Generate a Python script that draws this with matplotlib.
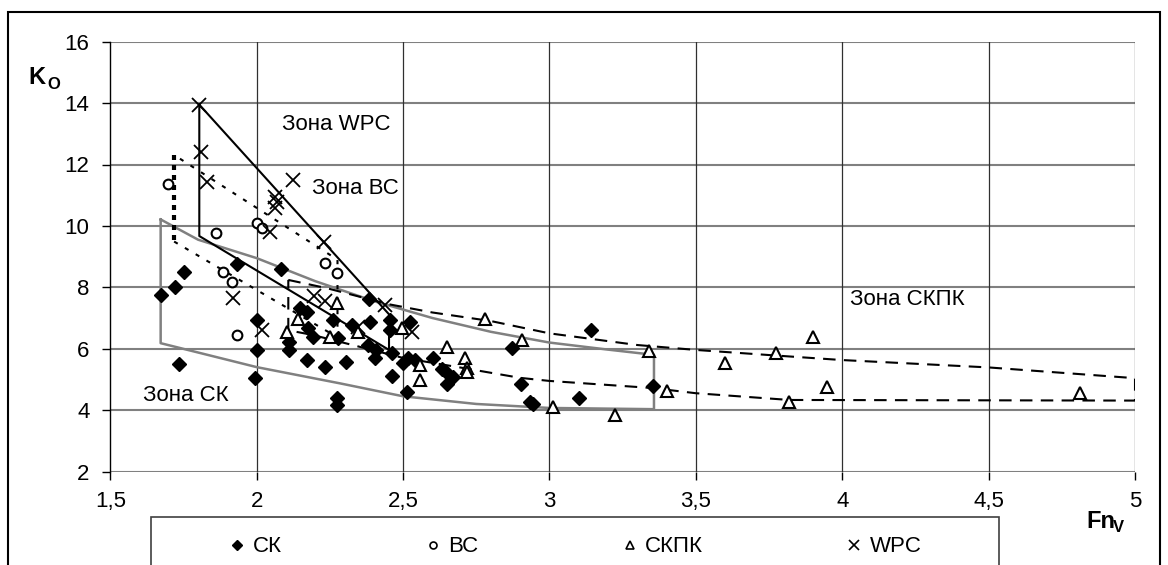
import matplotlib
matplotlib.use("Agg")
import matplotlib.pyplot as plt
from matplotlib.patches import Rectangle
from matplotlib.lines import Line2D

plt.rcParams["font.family"] = ["Liberation Sans", "DejaVu Sans"]

# --- measured points ---
ck_x = [1.672, 1.721, 1.753, 1.932, 2.084, 1.735, 2.0, 2.0, 1.994, 2.111,
        2.111, 2.148, 2.171, 2.175, 2.192, 2.171, 2.233, 2.261, 2.273, 2.273,
        2.279, 2.305, 2.324, 2.385, 2.387, 2.381, 2.409, 2.404, 2.455, 2.455,
        2.461, 2.461, 2.524, 2.501, 2.518, 2.541, 2.512, 2.603, 2.632, 2.649,
        2.671, 2.649, 2.871, 2.903, 2.933, 2.945, 3.102, 3.142, 3.354]
ck_y = [7.75, 8.00, 8.49, 8.76, 8.59, 5.50, 6.93, 5.96, 5.05, 6.23,
        5.96, 7.33, 7.21, 6.67, 6.38, 5.63, 5.41, 6.93, 4.39, 4.17,
        6.34, 5.58, 6.77, 7.61, 6.88, 6.12, 5.96, 5.69, 6.93, 6.61,
        5.85, 5.11, 6.88, 5.52, 5.69, 5.63, 4.60, 5.69, 5.33, 5.22,
        5.09, 4.85, 6.01, 4.85, 4.27, 4.20, 4.38, 6.61, 4.79]

bc_x = [1.698, 1.861, 2.0, 2.017, 2.233, 2.275, 1.886, 1.915, 1.932]
bc_y = [11.36, 9.76, 10.08, 9.92, 8.80, 8.47, 8.51, 8.18, 6.45]

skpk_x = [2.142, 2.102, 2.273, 2.250, 2.347, 2.495, 2.649, 2.557, 2.557, 2.780,
          2.712, 2.717, 2.717, 2.905, 3.013, 3.224, 3.341, 3.402, 3.600, 3.773,
          3.901, 3.947, 3.819, 4.812]
skpk_y = [6.96, 6.55, 7.50, 6.39, 6.55, 6.66, 6.07, 5.46, 4.98, 6.98,
          5.69, 5.36, 5.25, 6.27, 4.11, 3.85, 5.93, 4.63, 5.54, 5.87,
          6.39, 4.76, 4.27, 4.57]

wpc_x = [1.804, 1.809, 1.829, 2.125, 2.063, 2.068, 2.063, 2.045, 2.231, 1.920,
         2.017, 2.195, 2.235, 2.347, 2.438, 2.529]
wpc_y = [13.95, 12.42, 11.44, 11.49, 10.95, 10.79, 10.57, 9.81, 9.49, 7.64,
         6.61, 7.72, 7.55, 6.72, 7.42, 6.55]

# --- zone boundaries ---
zone_sk_x = [1.672, 1.8, 2.0, 2.2, 2.4, 2.6, 2.8, 3.0, 3.2, 3.357,
             3.357, 3.0, 2.75, 2.5, 2.285, 2.0, 1.672, 1.672]
zone_sk_y = [10.21, 9.55, 8.95, 8.2, 7.55, 7.0, 6.55, 6.2, 5.97, 5.8,
             4.03, 4.07, 4.2, 4.45, 4.87, 5.4, 6.18, 10.21]

zone_wpc_x = [1.804, 1.804, 2.452, 2.452, 1.804]
zone_wpc_y = [13.95, 9.67, 5.96, 7.12, 13.95]

zone_bc_left_x = [1.718, 1.718]
zone_bc_left_y = [12.31, 9.49]
zone_bc_x = [1.718, 2.276, 2.276, 1.718]
zone_bc_y = [9.49, 6.37, 8.9, 12.31]

zone_skpk_x = [2.108, 2.24, 2.45, 2.6, 2.8, 3.0, 3.3, 3.5, 3.8, 4.0, 4.5, 5.0,
               5.0, 3.82, 3.5, 3.35, 3.0, 2.9, 2.7, 2.5, 2.336, 2.19, 2.108, 2.108]
zone_skpk_y = [8.24, 7.97, 7.45, 7.18, 6.9, 6.5, 6.12, 5.96, 5.76, 5.63, 5.39, 5.04,
               4.31, 4.33, 4.55, 4.72, 4.95, 5.05, 5.38, 5.7, 6.1, 6.45, 6.6, 8.24]

x_ticks = [1.5, 2, 2.5, 3, 3.5, 4, 4.5, 5]
x_labels = ["1,5", "2", "2,5", "3", "3,5", "4", "4,5", "5"]
y_ticks = [2, 4, 6, 8, 10, 12, 14, 16]

W, H = 1168, 565
fig = plt.figure(figsize=(W / 100, H / 100), dpi=100)
ax = fig.add_axes([110.3 / W, 1 - 471.5 / H, (1135 - 110.3) / W, (471.5 - 41.7) / H])

ax.set_xlim(1.5, 5)
ax.set_ylim(2, 16)
for yv in y_ticks:
    ax.axhline(yv, color="#808080", lw=1.5, zorder=0)
for xv in x_ticks[1:]:
    ax.axvline(xv, color="#303030", lw=0.9, zorder=0)

for s in ["top", "right", "bottom"]:
    ax.spines[s].set_visible(False)
ax.spines["left"].set_color("black")
ax.spines["left"].set_linewidth(1.0)

ax.set_xticks(x_ticks)
ax.set_xticklabels(x_labels)
ax.set_yticks(y_ticks)
ax.tick_params(axis="both", direction="out", length=6, width=1, labelsize=16, colors="black")
ax.tick_params(axis="y", pad=9)
ax.tick_params(axis="x", pad=8)

# zone outlines
ax.plot(zone_sk_x, zone_sk_y, color="#808080", lw=1.8, zorder=2)
ax.plot(zone_wpc_x, zone_wpc_y, color="black", lw=1.5, zorder=2)
ax.plot(zone_bc_left_x, zone_bc_left_y, color="black", lw=3, linestyle=(0, (1.2, 1.2)), zorder=2)
ax.plot(zone_bc_x, zone_bc_y, color="black", lw=1.5, linestyle=(0, (2, 4)), zorder=2)
ax.plot(zone_skpk_x, zone_skpk_y, color="black", lw=1.5, linestyle=(0, (6, 4)), zorder=2)

# points
ax.plot(ck_x, ck_y, "D", color="black", ms=7.5, ls="none", zorder=3)
ax.plot(bc_x, bc_y, "o", mfc="white", mec="black", mew=1.5, ms=7, ls="none", zorder=3)
ax.plot(skpk_x, skpk_y, "^", mfc="white", mec="black", mew=1.5, ms=9, ls="none", zorder=3)
ax.plot(wpc_x, wpc_y, "x", color="black", mew=1.3, ms=10, ls="none", zorder=3)

# zone labels
ax.text(2.085, 13.3, "Зона WPC", fontsize=16, va="center", ha="left")
ax.text(2.188, 11.22, "Зона ВС", fontsize=16, va="center", ha="left")
ax.text(4.026, 7.59, "Зона СКПК", fontsize=16, va="center", ha="left")
ax.text(1.612, 4.47, "Зона СК", fontsize=16, va="center", ha="left")

# axis names
fig.text(28 / W, 1 - 78 / H, "K", fontsize=17, fontweight="bold", va="center", ha="left")
fig.text(47 / W, 1 - 84 / H, "O", fontsize=12, fontweight="bold", va="center", ha="left")
fig.text(1086 / W, 1 - 522 / H, "Fn", fontsize=17, fontweight="bold", va="center", ha="left")
fig.text(1113 / W, 1 - 528 / H, "V", fontsize=12, fontweight="bold", va="center", ha="left")

# legend (frame drawn separately)
handles = [
    Line2D([], [], marker="D", color="black", ls="none", ms=5),
    Line2D([], [], marker="o", mfc="white", mec="black", mew=1.2, ls="none", ms=5),
    Line2D([], [], marker="^", mfc="white", mec="black", mew=1.2, ls="none", ms=6),
    Line2D([], [], marker="x", color="black", mew=1.2, ls="none", ms=7),
]
fig.legend(handles, ["СК", "ВС", "СКПК", "WPC"], ncol=4, loc="center",
           bbox_to_anchor=(574 / W, 1 - 547 / H), borderaxespad=0, fontsize=16,
           frameon=False, handletextpad=0.2, handlelength=1.0, columnspacing=6.3)
fig.add_artist(Rectangle((151 / W, -0.05), 848 / W, 0.05 + 1 - 517 / H, transform=fig.transFigure,
                         fill=False, ec="#404040", lw=1.2))

# outer chart border
fig.add_artist(Rectangle((8 / W, -0.05), 1152 / W, 1 - 12 / H + 0.05, transform=fig.transFigure,
                         fill=False, ec="black", lw=1.5))

fig.savefig("out.png", dpi=100)
